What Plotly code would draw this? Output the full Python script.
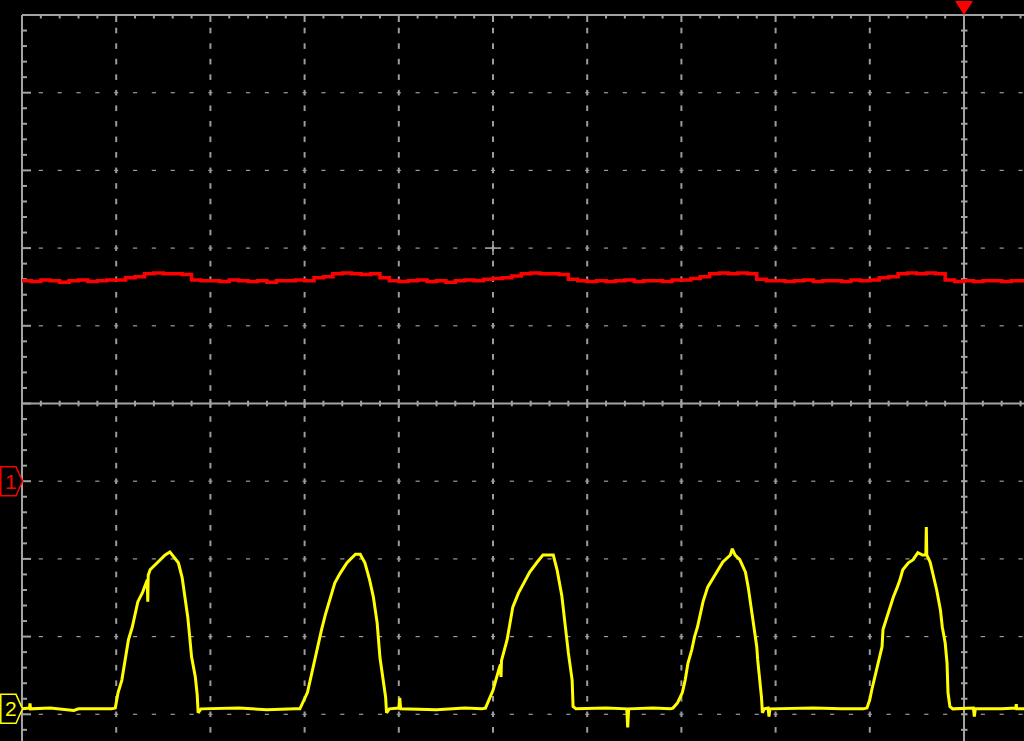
import plotly.graph_objects as go

# ---------------- data (time in divisions, voltage in divisions) ----------------
CH1_OFFSET = -1.0    # channel 1 ground marker position (div)
CH2_OFFSET = -3.93   # channel 2 ground marker position (div)

# Channel 1 (red): one sample every 0.1 div starting at t = 0
ch1_t0 = 0.0
ch1_dt = 0.1
ch1_v = [
    2.58, 2.57, 2.59, 2.58, 2.56, 2.58, 2.59, 2.57, 2.58, 2.59,
    2.59, 2.62, 2.63, 2.67, 2.68, 2.67, 2.67, 2.66, 2.59, 2.58,
    2.58, 2.57, 2.59, 2.58, 2.57, 2.58, 2.56, 2.58, 2.58, 2.59,
    2.58, 2.62, 2.63, 2.67, 2.68, 2.67, 2.66, 2.67, 2.62, 2.58,
    2.57, 2.58, 2.59, 2.57, 2.58, 2.56, 2.58, 2.59, 2.58, 2.60,
    2.61, 2.62, 2.64, 2.67, 2.68, 2.67, 2.67, 2.66, 2.60, 2.58,
    2.57, 2.58, 2.57, 2.58, 2.59, 2.57, 2.58, 2.58, 2.57, 2.59,
    2.59, 2.61, 2.63, 2.67, 2.68, 2.67, 2.68, 2.67, 2.60, 2.58,
    2.58, 2.57, 2.58, 2.59, 2.57, 2.58, 2.58, 2.57, 2.59, 2.58,
    2.59, 2.62, 2.63, 2.67, 2.68, 2.67, 2.68, 2.67, 2.59, 2.57,
    2.58, 2.57, 2.58, 2.58, 2.57, 2.58, 2.58, 2.58,
]

# Channel 2 (yellow): vertices
ch2_t = [
    # baseline
    0.00, 0.08, 0.085, 0.09, 0.30, 0.55, 0.60, 0.95,
    # pulse 1
    0.99, 1.02, 1.06, 1.09, 1.13, 1.17, 1.20, 1.23, 1.28, 1.33, 1.335, 1.34, 1.36,
    1.41, 1.47, 1.52, 1.57, 1.62, 1.66, 1.70, 1.73, 1.76, 1.78, 1.80, 1.84, 1.86, 1.87,
    # baseline
    1.90, 2.30, 2.60, 2.90,
    # pulse 2
    2.95, 3.03, 3.09, 3.13, 3.18, 3.22, 3.27, 3.32, 3.38, 3.45, 3.54, 3.59, 3.64,
    3.69, 3.73, 3.77, 3.80, 3.83, 3.86, 3.87,
    # baseline
    3.90, 4.00, 4.01, 4.02, 4.40, 4.70, 4.88,
    # pulse 3
    4.92, 5.00, 5.07, 5.08, 5.085, 5.09, 5.15, 5.18, 5.21, 5.27, 5.34, 5.39, 5.47,
    5.53, 5.64, 5.68, 5.73, 5.76, 5.80, 5.84, 5.85,
    # baseline
    5.88, 6.20, 6.42, 6.43, 6.44, 6.70, 6.88,
    # pulse 4
    6.91, 6.96, 7.01, 7.04, 7.07, 7.11, 7.14, 7.17, 7.20, 7.23, 7.28, 7.34, 7.39,
    7.44, 7.52, 7.54, 7.57, 7.62, 7.68, 7.71, 7.73, 7.76, 7.78, 7.80, 7.81, 7.83,
    7.85, 7.86,
    # baseline
    7.88, 7.92, 7.93, 7.94, 8.40, 8.70, 8.93,
    # pulse 5
    8.97, 9.00, 9.02, 9.06, 9.09, 9.13, 9.14, 9.18, 9.21, 9.25, 9.29, 9.32, 9.35,
    9.41, 9.46, 9.51, 9.56, 9.595, 9.60, 9.605, 9.64, 9.67, 9.71, 9.75, 9.77, 9.80,
    9.82, 9.83, 9.85,
    # baseline
    9.88, 10.10, 10.11, 10.12, 10.40, 10.55, 10.555, 10.56, 10.64,
]
ch2_v = [
    # baseline
    0.00, 0.01, 0.07, 0.00, 0.01, -0.02, 0.00, 0.00,
    # pulse 1
    0.01, 0.21, 0.37, 0.60, 0.89, 1.05, 1.21, 1.38, 1.50, 1.66, 1.38, 1.72, 1.79,
    1.85, 1.92, 1.98, 2.02, 1.95, 1.88, 1.69, 1.44, 1.18, 0.93, 0.67, 0.41, 0.18, -0.05,
    # baseline
    0.00, 0.01, -0.01, 0.00,
    # pulse 2
    0.00, 0.21, 0.54, 0.76, 1.02, 1.21, 1.43, 1.62, 1.75, 1.88, 1.99, 1.99, 1.88,
    1.66, 1.44, 1.11, 0.66, 0.41, 0.15, -0.05,
    # baseline
    0.00, 0.01, 0.14, 0.00, -0.01, 0.01, 0.00,
    # pulse 3
    0.01, 0.24, 0.54, 0.57, 0.41, 0.62, 0.89, 1.11, 1.31, 1.49, 1.66, 1.76, 1.89,
    1.98, 1.98, 1.79, 1.46, 1.11, 0.72, 0.37, 0.03,
    # baseline
    0.00, 0.01, 0.00, -0.24, 0.00, 0.01, 0.00,
    # pulse 4
    0.01, 0.08, 0.21, 0.37, 0.59, 0.76, 0.93, 1.05, 1.23, 1.38, 1.57, 1.70, 1.79,
    1.89, 1.98, 2.06, 1.98, 1.92, 1.76, 1.56, 1.40, 1.18, 1.02, 0.80, 0.63, 0.41,
    0.15, -0.05,
    # baseline
    0.00, 0.01, -0.10, 0.00, 0.01, 0.00, 0.00,
    # pulse 5
    0.01, 0.12, 0.24, 0.44, 0.63, 0.80, 1.02, 1.18, 1.31, 1.44, 1.56, 1.66, 1.79,
    1.88, 1.92, 2.01, 1.98, 1.98, 2.34, 1.98, 1.89, 1.75, 1.53, 1.27, 1.05, 0.85,
    0.59, 0.21, 0.03,
    # baseline
    0.00, 0.01, -0.10, 0.00, 0.00, 0.01, 0.06, 0.00, 0.00,
]

# ---------------- screen geometry ----------------
W, H = 1024, 741
PX_X = 94.2          # pixels per horizontal division
PX_Y = 77.7          # pixels per vertical division
X0 = 22.0            # pixel column of t = 0
Y0 = 403.5           # pixel row of y = 0
XMIN, XMAX = -X0 / PX_X, (W - X0) / PX_X
YMIN, YMAX = -(H - Y0) / PX_Y, Y0 / PX_Y
TOP = 5.0
TRIG = 10.0

SOLID = "#a3a3a3"
DOT = "#9c9c9c"
RED = "#ff0000"
YEL = "#ffff00"

fig = go.Figure()

# dotted vertical grid lines
vx, vy = [], []
for t in range(1, 10):
    for k in range(-21, 25):
        vx.append(t)
        vy.append(k * 0.2)
fig.add_trace(go.Scatter(x=vx, y=vy, mode="markers", hoverinfo="skip",
                         marker=dict(symbol="line-ns", size=4, line=dict(width=2, color=DOT))))
# dotted horizontal grid lines
hx, hy = [], []
for yy in [-4, -3, -2, -1, 1, 2, 3, 4]:
    for k in range(1, 54):
        hx.append(k * 0.2)
        hy.append(yy)
fig.add_trace(go.Scatter(x=hx, y=hy, mode="markers", hoverinfo="skip",
                         marker=dict(symbol="line-ew", size=3, line=dict(width=1.2, color=DOT))))

# tick marks on the solid lines
tx, ty = [], []
for k in range(1, 54):
    x = k * 0.2
    L = 7 if k % 5 == 0 else 3.5
    tx += [x, x, None]; ty += [TOP, TOP - L / PX_Y, None]
    L2 = 4.5 if k % 5 == 0 else 2.8
    tx += [x, x, None]; ty += [L2 / PX_Y, -L2 / PX_Y, None]
for k in range(-21, 25):
    y = k * 0.2
    L = 9 if k % 5 == 0 else 5
    tx += [0, L / PX_X, None]; ty += [y, y, None]
    tx += [TRIG - 3 / PX_X, TRIG + 3.5 / PX_X, None]; ty += [y, y, None]
fig.add_trace(go.Scatter(x=tx, y=ty, mode="lines", hoverinfo="skip",
                         line=dict(color=SOLID, width=2)))

# centre cross
fig.add_trace(go.Scatter(x=[5 - 8 / PX_X, 5 + 8 / PX_X, None, 5, 5],
                         y=[2, 2, None, 2 - 7 / PX_Y, 2 + 7 / PX_Y],
                         mode="lines", hoverinfo="skip", line=dict(color=SOLID, width=1.6)))

# solid graticule lines
for (x0, y0, x1, y1) in [(0, TOP, XMAX, TOP), (0, TOP, 0, YMIN),
                         (0, 0, XMAX, 0), (TRIG, TOP, TRIG, YMIN)]:
    fig.add_shape(type="line", x0=x0, y0=y0, x1=x1, y1=y1, xref="x", yref="y",
                  line=dict(color=SOLID, width=2), layer="below")

# channel traces
ch1_t = [ch1_t0 + i * ch1_dt for i in range(len(ch1_v))]
fig.add_trace(go.Scatter(x=ch1_t, y=[v + CH1_OFFSET for v in ch1_v], mode="lines",
                         line=dict(color=RED, width=3.5, shape="hv"), hoverinfo="skip"))
fig.add_trace(go.Scatter(x=ch2_t, y=[v + CH2_OFFSET for v in ch2_v], mode="lines",
                         line=dict(color=YEL, width=3), hoverinfo="skip"))

# channel ground markers
def marker(off, color, label):
    l = (0.8 - X0) / PX_X
    r = (16 - X0) / PX_X
    tip = (22.5 - X0) / PX_X
    h = 14.5 / PX_Y
    fig.add_shape(type="path", xref="x", yref="y",
                  path=f"M {l},{off + h} L {r},{off + h} L {tip},{off} L {r},{off - h} L {l},{off - h} Z",
                  line=dict(color=color, width=1.5), fillcolor="black")
    fig.add_annotation(x=(10.5 - X0) / PX_X, y=off, xref="x", yref="y", text=label,
                       showarrow=False, font=dict(color=color, size=21, family="Liberation Sans"))

marker(CH1_OFFSET, RED, "1")
marker(CH2_OFFSET, YEL, "2")

# trigger position marker
fig.add_shape(type="path", xref="x", yref="y",
              path=f"M {TRIG - 9 / PX_X},{(Y0 - 1) / PX_Y} L {TRIG + 9 / PX_X},{(Y0 - 1) / PX_Y} L {TRIG},{TOP} Z",
              fillcolor=RED, line=dict(width=0))

fig.update_layout(
    width=W, height=H, margin=dict(l=0, r=0, t=0, b=0),
    paper_bgcolor="black", plot_bgcolor="black", showlegend=False,
    xaxis=dict(range=[XMIN, XMAX], visible=False, fixedrange=True),
    yaxis=dict(range=[YMIN, YMAX], visible=False, fixedrange=True),
)

fig.write_html("out.html",
               config={"displayModeBar": False, "staticPlot": True},
               post_script="document.body.style.margin='0';"
                           "document.body.style.overflow='hidden';"
                           "document.body.style.background='black';")
